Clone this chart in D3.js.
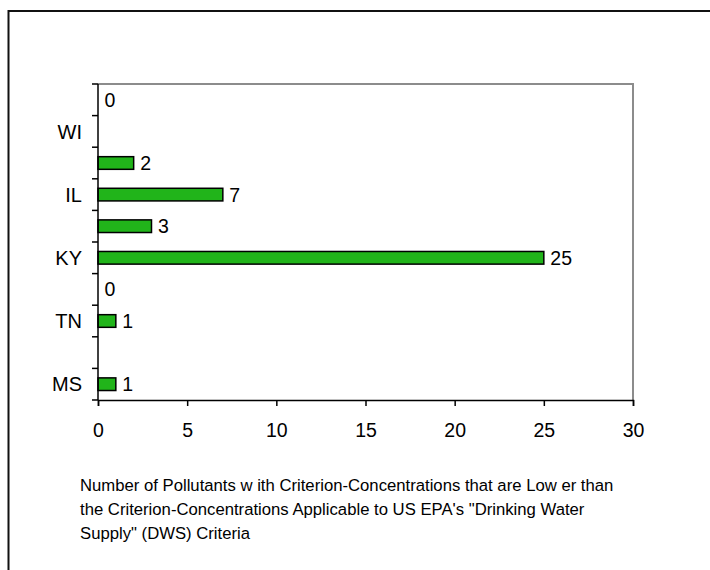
<!DOCTYPE html>
<html>
<head>
<meta charset="utf-8">
<script src="https://cdn.jsdelivr.net/npm/d3@7"></script>
<style>
  html, body { margin: 0; padding: 0; background: #fff; }
  svg { display: block; }
  text { font-family: "Liberation Sans", Arial, sans-serif; fill: #000; }
</style>
</head>
<body>
<script>
// Category rows, top to bottom; only every other row carries a drawn label
const categories = ["", "WI", "", "IL", "", "KY", "", "TN", "", "MS"];
// Pollutant counts per row (null = no bar, no label)
const values = [0, null, 2, 7, 3, 25, 0, 1, null, 1];
const xTicks = [0, 5, 10, 15, 20, 25, 30];
const captionLines = [
  "Number of Pollutants w ith Criterion-Concentrations that are Low er than",
  "the Criterion-Concentrations Applicable to US EPA's \"Drinking Water",
  "Supply\" (DWS) Criteria"
];

const W = 710, H = 570;
const plot = { left: 98, right: 633, top: 84, bottom: 400 };
const numFont = 19.5, catFont = 20, capFont = 16.7;

const svg = d3.select("body").append("svg")
  .attr("width", W).attr("height", H);

svg.append("rect").attr("width", W).attr("height", H).attr("fill", "#fff");

// Outer frame (runs off the right and bottom edges)
svg.append("rect")
  .attr("x", 8.5).attr("y", 11)
  .attr("width", 760).attr("height", 620)
  .attr("fill", "none").attr("stroke", "#111").attr("stroke-width", 2);

const x = d3.scaleLinear().domain([0, 30]).range([plot.left, plot.right]);
const y = d3.scaleBand()
  .domain(d3.range(categories.length))
  .range([plot.top, plot.bottom])
  .paddingInner(0).paddingOuter(0);

const barH = y.bandwidth() / 2.5;

// Plot area frame: grey top and right edges
svg.append("path")
  .attr("d", `M${plot.left},${plot.top}H${plot.right}V${plot.bottom}`)
  .attr("fill", "none").attr("stroke", "#8c8c8c").attr("stroke-width", 2);

// Bars
const rows = values.map((v, i) => ({ i, v })).filter(d => d.v !== null);
svg.append("g").selectAll("rect")
  .data(rows.filter(d => d.v > 0))
  .join("rect")
  .attr("x", x(0))
  .attr("y", d => y(d.i) + (y.bandwidth() - barH) / 2)
  .attr("width", d => x(d.v) - x(0))
  .attr("height", barH)
  .attr("fill", "#21b41a")
  .attr("stroke", "#000")
  .attr("stroke-width", 1.5);

// Value labels
svg.append("g").selectAll("text")
  .data(rows)
  .join("text")
  .attr("x", d => x(d.v) + 6.5)
  .attr("y", d => y(d.i) + y.bandwidth() / 2)
  .attr("dy", "0.36em")
  .attr("font-size", numFont)
  .text(d => d.v);

// Y axis: ticks at row boundaries, labels at row centres
const yAxis = svg.append("g");
yAxis.append("line")
  .attr("x1", plot.left).attr("x2", plot.left)
  .attr("y1", plot.top).attr("y2", plot.bottom)
  .attr("stroke", "#000").attr("stroke-width", 1.5);
const bounds = d3.range(categories.length + 1).map(i => plot.top + i * y.bandwidth());
yAxis.selectAll("line.tick")
  .data(bounds)
  .join("line").attr("class", "tick")
  .attr("x1", plot.left - 6).attr("x2", plot.left)
  .attr("y1", d => d).attr("y2", d => d)
  .attr("stroke", "#000").attr("stroke-width", 1.5);
yAxis.selectAll("text")
  .data(categories.map((c, i) => ({ c, i })).filter(d => d.c))
  .join("text")
  .attr("x", plot.left - 16)
  .attr("y", d => y(d.i) + y.bandwidth() / 2)
  .attr("dy", "0.36em")
  .attr("text-anchor", "end")
  .attr("font-size", catFont)
  .text(d => d.c);

// X axis
const xAxis = svg.append("g").attr("transform", `translate(0,${plot.bottom})`)
  .call(d3.axisBottom(x).tickValues(xTicks).tickSize(6).tickPadding(17).tickFormat(d3.format("d")));
xAxis.select(".domain").attr("stroke", "#000").attr("stroke-width", 1.5);
xAxis.selectAll(".tick line").attr("stroke", "#000").attr("stroke-width", 1.5);
xAxis.selectAll(".tick text")
  .attr("font-size", numFont)
  .attr("font-family", "\"Liberation Sans\", Arial, sans-serif")
  .attr("fill", "#000");

// Caption below the chart
svg.append("g").selectAll("text")
  .data(captionLines)
  .join("text")
  .attr("x", 80)
  .attr("y", (d, i) => 491 + i * 24)
  .attr("font-size", capFont)
  .text(d => d);
</script>
</body>
</html>
